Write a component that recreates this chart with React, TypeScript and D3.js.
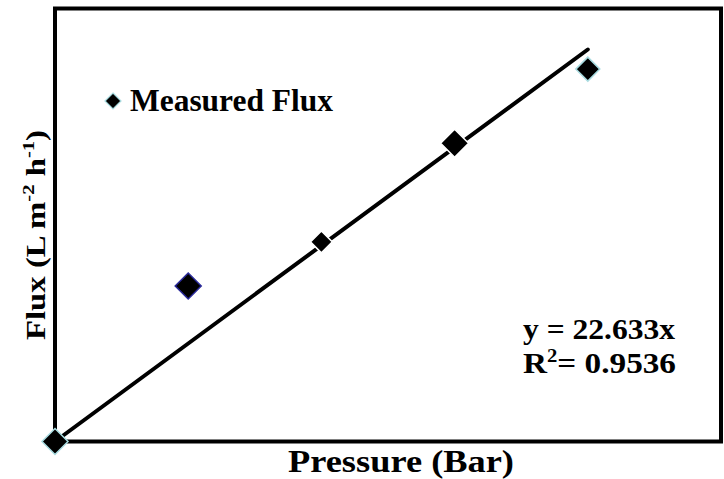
import React from "react";
import * as d3 from "d3";

const pressure = [0, 1, 2, 3, 4];
const flux = [0, 35.9, 46.1, 68.9, 86.0];
const seriesName = "Measured Flux";
const slope = 22.633;
const rSquared = "0.9536";
const xDomain = [0, 5];
const yDomain = [0, 100];

const markerHalf = [13, 13, 11, 14, 12];
const markerStroke = ["#a8dbe0", "#2a2a9a", "#ffffff", "#ffffff", "#a8dbe0"];

const W = 724;
const H = 479;
const M = { left: 55, right: 721, top: 8.5, bottom: 441.5 };
const FONT = "'Times New Roman', 'Liberation Serif', serif";

export default function App() {
  const x = d3.scaleLinear().domain(xDomain).range([M.left, M.right]);
  const y = d3.scaleLinear().domain(yDomain).range([M.bottom, M.top]);
  const diamond = (h: number) => `M0,${-h}L${h},0L0,${h}L${-h},0Z`;
  const trend = d3.line<number>().x((d) => x(d)).y((d) => y(slope * d))([0, 4]) || "";

  return (
    <svg
      width={W}
      height={H}
      style={{ position: "absolute", left: 0, top: 0, background: "#fff", fontFamily: FONT, fontWeight: 700 }}
    >
      <rect x={0} y={0} width={W} height={H} fill="#fff" />
      <rect
        x={M.left}
        y={M.top}
        width={M.right - M.left}
        height={M.bottom - M.top}
        fill="none"
        stroke="#000"
        strokeWidth={4}
      />
      <path d={trend} stroke="#000" strokeWidth={4} fill="none" strokeLinecap="round" />
      {pressure.map((p, i) => (
        <path
          key={i}
          d={diamond(markerHalf[i])}
          transform={`translate(${x(p)},${y(flux[i])})`}
          fill="#000"
          stroke={markerStroke[i]}
          strokeWidth={1.5}
        />
      ))}
      {/* legend */}
      <path d={diamond(8)} transform="translate(113,101)" fill="#000" stroke="#a8dbe0" strokeWidth={1.2} />
      <text x={130} y={111} fontSize={32} textLength={203} lengthAdjust="spacingAndGlyphs">
        {seriesName}
      </text>
      {/* equation */}
      <text x={523} y={339} fontSize={29} textLength={152} lengthAdjust="spacingAndGlyphs">
        {`y = ${slope}x`}
      </text>
      <text x={523} y={373} fontSize={29} textLength={153} lengthAdjust="spacingAndGlyphs">
        R<tspan fontSize={18} dy={-11}>2</tspan>
        <tspan dy={11}>{`= ${rSquared}`}</tspan>
      </text>
      {/* axis titles */}
      <text x={288} y={472} fontSize={31} textLength={226} lengthAdjust="spacingAndGlyphs">
        Pressure (Bar)
      </text>
      <text
        transform="translate(45,340) rotate(-90)"
        fontSize={27}
        textLength={210}
        lengthAdjust="spacingAndGlyphs"
      >
        Flux (L m<tspan fontSize={17} dy={-11}>-2</tspan>
        <tspan dy={11}> h</tspan>
        <tspan fontSize={17} dy={-11}>-1</tspan>
        <tspan dy={11}>)</tspan>
      </text>
    </svg>
  );
}
